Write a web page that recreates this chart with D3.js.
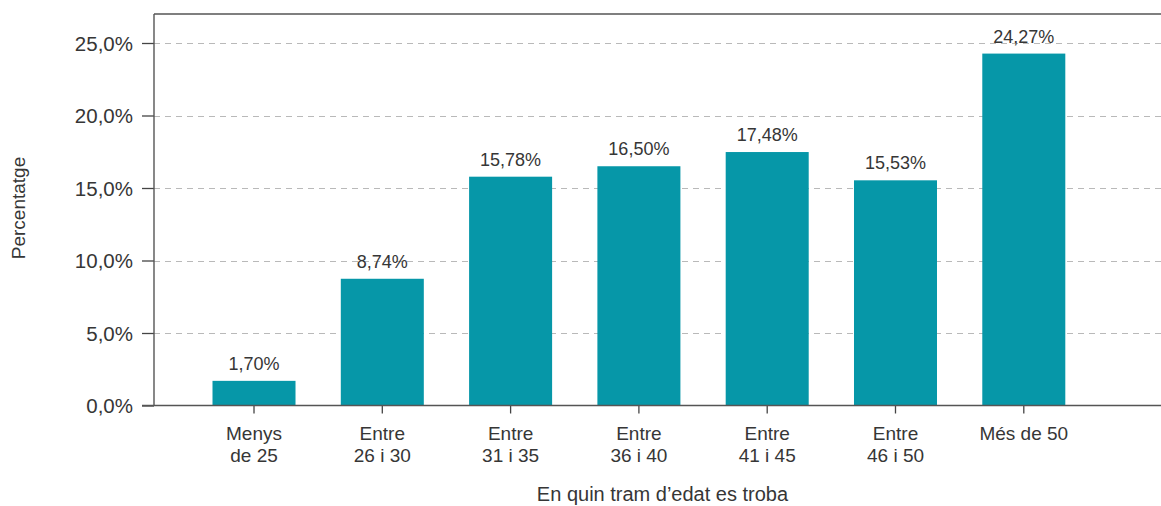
<!DOCTYPE html>
<html>
<head>
<meta charset="utf-8">
<script src="https://cdn.jsdelivr.net/npm/d3@7"></script>
<style>
  html, body { margin: 0; padding: 0; background: #fff; }
  svg { display: block; }
  text { font-family: "Liberation Sans", Arial, sans-serif; fill: #363636; }
</style>
</head>
<body>
<svg id="chart" width="1161" height="506"></svg>
<script>
// Age brackets and share of respondents (%)
const categories = [
  ["Menys", "de 25"],
  ["Entre", "26 i 30"],
  ["Entre", "31 i 35"],
  ["Entre", "36 i 40"],
  ["Entre", "41 i 45"],
  ["Entre", "46 i 50"],
  ["Més de 50"]
];
const values = [1.70, 8.74, 15.78, 16.50, 17.48, 15.53, 24.27];
const yTicks = [0, 5, 10, 15, 20, 25];
const xTitle = "En quin tram d\u2019edat es troba";
const yTitle = "Percentatge";

const svg = d3.select("#chart");
const W = 1161;
const plot = { left: 154, right: W, top: 14, bottom: 405.5 };

const keys = categories.map((c, i) => i);
const x = d3.scaleBand()
  .domain(keys)
  .range([212.5, 1065.3])
  .paddingInner(0.353)
  .paddingOuter(0);

const y = d3.scaleLinear()
  .domain([0, 27])
  .range([plot.bottom, plot.top]);

const fmt = v => d3.format(".1f")(v).replace(".", ",") + "%";
const fmt2 = v => d3.format(".2f")(v).replace(".", ",") + "%";

// Dashed horizontal gridlines
svg.append("g")
  .selectAll("line")
  .data(yTicks.filter(t => t > 0))
  .join("line")
  .attr("x1", plot.left)
  .attr("x2", plot.right)
  .attr("y1", d => Math.round(y(d)) + 0.5)
  .attr("y2", d => Math.round(y(d)) + 0.5)
  .attr("stroke", "#b9b9b9")
  .attr("stroke-width", 1.2)
  .attr("stroke-dasharray", "6,5");

// Bars
svg.append("g")
  .selectAll("rect")
  .data(values)
  .join("rect")
  .attr("x", (d, i) => x(i))
  .attr("width", x.bandwidth())
  .attr("y", d => y(d))
  .attr("height", d => y(0) - y(d))
  .attr("fill", "#0697a8");

// Value labels above bars
svg.append("g")
  .selectAll("text")
  .data(values)
  .join("text")
  .attr("x", (d, i) => x(i) + x.bandwidth() / 2)
  .attr("y", d => y(d) - 11)
  .attr("text-anchor", "middle")
  .style("font-size", "18px")
  .text(d => fmt2(d));

// Y axis
const yAxis = d3.axisLeft(y)
  .tickValues(yTicks)
  .tickFormat(fmt)
  .tickSize(12)
  .tickPadding(9);
const gy = svg.append("g")
  .attr("transform", `translate(${plot.left},0)`)
  .call(yAxis);
gy.select(".domain").remove();
gy.selectAll(".tick line").attr("stroke", "#444").attr("stroke-width", 1.3);
gy.selectAll(".tick text")
  .style("font-size", "20.5px")
  .style("font-family", "Liberation Sans, Arial, sans-serif")
  .attr("fill", "#363636")
  .attr("dy", "0.36em");

// X axis
const xAxis = d3.axisBottom(x).tickSize(8).tickFormat(() => "");
const gx = svg.append("g")
  .attr("transform", `translate(0,${plot.bottom})`)
  .call(xAxis);
gx.select(".domain").remove();
gx.selectAll(".tick line").attr("stroke", "#444").attr("stroke-width", 1.3);
gx.selectAll(".tick").each(function (d) {
  const t = d3.select(this).append("text")
    .attr("text-anchor", "middle")
    .attr("y", 34.5)
    .style("font-size", "19px")
    .attr("fill", "#363636");
  categories[d].forEach((line, k) => {
    t.append("tspan").attr("x", 0).attr("dy", k === 0 ? 0 : 21.5).text(line);
  });
});

// Frame: baseline, left axis line, top border
svg.append("line")
  .attr("x1", plot.left - 12).attr("x2", plot.right)
  .attr("y1", plot.bottom).attr("y2", plot.bottom)
  .attr("stroke", "#555").attr("stroke-width", 1.6);
svg.append("line")
  .attr("x1", plot.left).attr("x2", plot.left)
  .attr("y1", plot.top).attr("y2", plot.bottom)
  .attr("stroke", "#555").attr("stroke-width", 1.4);
svg.append("line")
  .attr("x1", plot.left).attr("x2", plot.right)
  .attr("y1", plot.top).attr("y2", plot.top)
  .attr("stroke", "#555").attr("stroke-width", 1.4);

// Axis titles
svg.append("text")
  .attr("x", 662.5)
  .attr("y", 501)
  .attr("text-anchor", "middle")
  .style("font-size", "20px")
  .text(xTitle);

svg.append("text")
  .attr("transform", "translate(25,208) rotate(-90)")
  .attr("text-anchor", "middle")
  .style("font-size", "19px")
  .text(yTitle);
</script>
</body>
</html>
